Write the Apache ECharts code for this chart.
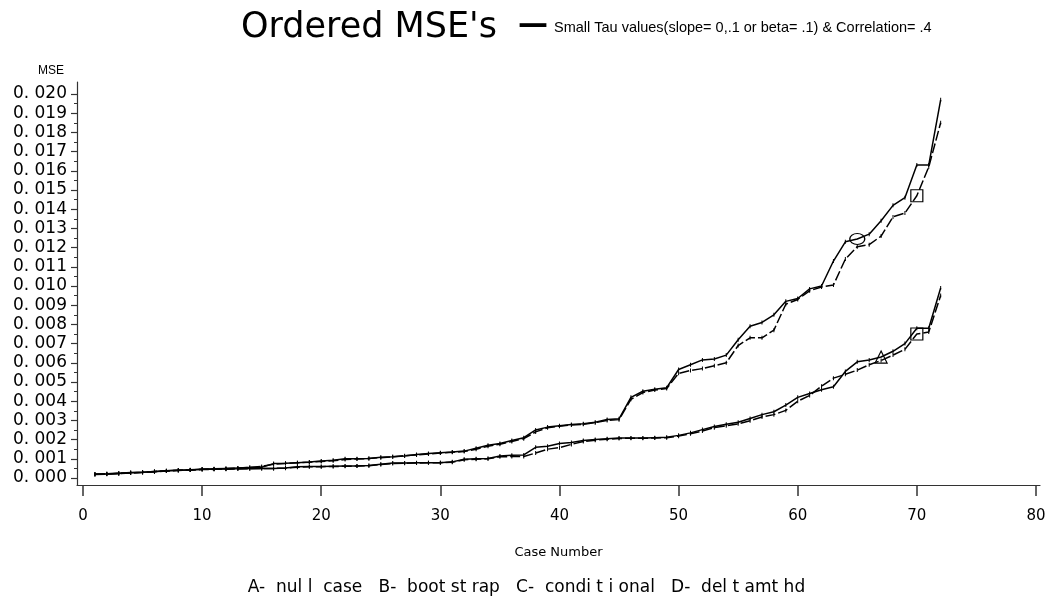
<!DOCTYPE html>
<html>
<head>
<meta charset="utf-8">
<title>Ordered MSE's</title>
<script src="https://cdn.jsdelivr.net/npm/echarts@6/dist/echarts.min.js"></script>
<style>
  html, body { margin: 0; padding: 0; background: #fff; }
  #chart { width: 1053px; height: 598px; }
</style>
</head>
<body>
<div id="chart"></div>
<script>
// Case numbers 1..72 (ordered by MSE within each method)
const caseNumbers = [
  1,2,3,4,5,6,7,8,9,10,11,12,13,14,15,16,17,18,19,20,21,22,23,24,
  25,26,27,28,29,30,31,32,33,34,35,36,37,38,39,40,41,42,43,44,45,46,47,48,
  49,50,51,52,53,54,55,56,57,58,59,60,61,62,63,64,65,66,67,68,69,70,71,72
];

// A - null case (solid, lower pair)
const nullCase = [
  0.00020,0.00021,0.00024,0.00027,0.00030,0.00034,0.00038,0.00040,0.00042,0.00045,
  0.00046,0.00047,0.00048,0.00050,0.00050,0.00050,0.00052,0.00058,0.00060,0.00060,
  0.00061,0.00062,0.00063,0.00065,0.00072,0.00078,0.00078,0.00079,0.00080,0.00080,
  0.00084,0.00098,0.00100,0.00102,0.00114,0.00118,0.00120,0.00160,0.00165,0.00180,
  0.00185,0.00195,0.00200,0.00205,0.00208,0.00208,0.00208,0.00210,0.00212,0.00222,
  0.00235,0.00252,0.00268,0.00280,0.00290,0.00310,0.00330,0.00345,0.00380,0.00420,
  0.00440,0.00460,0.00475,0.00555,0.00605,0.00615,0.00630,0.00660,0.00700,0.00780,
  0.00780,0.00990
];

// B - bootstrap (dashed, lower pair)
const bootstrap = [
  0.00018,0.00020,0.00023,0.00026,0.00029,0.00033,0.00036,0.00039,0.00041,0.00044,
  0.00045,0.00046,0.00047,0.00048,0.00049,0.00050,0.00051,0.00056,0.00058,0.00059,
  0.00060,0.00061,0.00062,0.00064,0.00070,0.00075,0.00077,0.00078,0.00079,0.00080,
  0.00082,0.00095,0.00098,0.00100,0.00110,0.00112,0.00112,0.00130,0.00150,0.00158,
  0.00175,0.00190,0.00197,0.00202,0.00206,0.00207,0.00207,0.00208,0.00210,0.00218,
  0.00230,0.00245,0.00262,0.00272,0.00282,0.00298,0.00318,0.00330,0.00352,0.00400,
  0.00430,0.00478,0.00520,0.00540,0.00562,0.00590,0.00612,0.00640,0.00670,0.00750,
  0.00760,0.00950
];

// C - conditional (solid, upper pair)
const conditional = [
  0.00020,0.00022,0.00025,0.00028,0.00030,0.00033,0.00038,0.00040,0.00043,0.00046,
  0.00048,0.00050,0.00052,0.00054,0.00056,0.00075,0.00077,0.00080,0.00083,0.00088,
  0.00092,0.00100,0.00100,0.00101,0.00108,0.00110,0.00115,0.00122,0.00128,0.00132,
  0.00135,0.00140,0.00155,0.00170,0.00180,0.00195,0.00210,0.00250,0.00265,0.00272,
  0.00278,0.00282,0.00290,0.00305,0.00308,0.00420,0.00452,0.00462,0.00470,0.00565,
  0.00590,0.00615,0.00620,0.00640,0.00720,0.00790,0.00810,0.00850,0.00920,0.00935,
  0.00985,0.01000,0.01130,0.01230,0.01245,0.01270,0.01340,0.01420,0.01460,0.01630,
  0.01630,0.01970
];

// D - deltamthd (dashed, upper pair)
const deltamthd = [
  0.00019,0.00022,0.00024,0.00027,0.00030,0.00034,0.00037,0.00040,0.00042,0.00045,
  0.00047,0.00049,0.00052,0.00055,0.00060,0.00072,0.00076,0.00079,0.00082,0.00086,
  0.00090,0.00096,0.00099,0.00102,0.00106,0.00110,0.00116,0.00120,0.00125,0.00130,
  0.00134,0.00138,0.00150,0.00165,0.00176,0.00190,0.00205,0.00240,0.00262,0.00270,
  0.00276,0.00280,0.00288,0.00300,0.00304,0.00410,0.00445,0.00458,0.00466,0.00545,
  0.00560,0.00570,0.00585,0.00600,0.00690,0.00730,0.00730,0.00770,0.00905,0.00930,
  0.00975,0.00995,0.01005,0.01140,0.01205,0.01215,0.01260,0.01360,0.01380,0.01470,
  0.01620,0.01850
];

// Tick labels
const xTicks = [0, 10, 20, 30, 40, 50, 60, 70, 80];
const yTicks = [0.000,0.001,0.002,0.003,0.004,0.005,0.006,0.007,0.008,0.009,0.010,
                0.011,0.012,0.013,0.014,0.015,0.016,0.017,0.018,0.019,0.020];

const BLACK = '#000';
const AXIS = '#333';
const FONT = 'DejaVu Sans';

// Build [case, mse] pairs; one case per series carries the method's plot symbol
function buildData(values, markAt, symbol, size) {
  return values.map(function (v, i) {
    const pt = [caseNumbers[i], v];
    if (caseNumbers[i] === markAt) {
      return {
        value: pt, symbol: symbol, symbolSize: size,
        itemStyle: { color: 'rgba(255,255,255,0)', borderColor: BLACK, borderWidth: 1.2 }
      };
    }
    return pt;
  });
}

function lineSeries(name, values, dashed, markAt, symbol, size) {
  return {
    name: name,
    type: 'line',
    data: buildData(values, markAt, symbol, size),
    symbol: 'rect',
    symbolSize: [1, 4],
    showSymbol: true,
    itemStyle: { color: BLACK },
    lineStyle: { color: BLACK, width: 1.5, type: dashed ? [10, 3] : 'solid' },
    z: 3
  };
}

const yFmt = function (v) { return v.toFixed(3).replace('.', '. '); };
const yMin = -0.000365, yMax = 0.020625;

const chart = echarts.init(document.getElementById('chart'), null, { renderer: 'canvas' });
chart.setOption({
  animation: false,
  backgroundColor: '#fff',
  title: [
    { text: "Ordered MSE's", left: 236, top: 5,
      textStyle: { fontFamily: FONT, fontSize: 35, fontWeight: 'normal', color: BLACK } },
    { text: '\u2014', left: 513, top: 5,
      textStyle: { fontFamily: FONT, fontSize: 30, fontWeight: 'bold', color: BLACK } },
    { text: 'Small Tau values(slope= 0,.1 or beta= .1) & Correlation= .4', left: 549, top: 15,
      textStyle: { fontFamily: 'Liberation Sans', fontSize: 14.5, fontWeight: 'normal', color: BLACK } },
    { text: 'MSE', left: 33, top: 60,
      textStyle: { fontFamily: 'Liberation Sans', fontSize: 12, fontWeight: 'normal', color: BLACK } },
    { text: 'A-  nul l  case   B-  boot st rap   C-  condi t i onal   D-  del t amt hd', left: 'center', top: 574,
      textStyle: { fontFamily: FONT, fontSize: 17, fontWeight: 'normal', color: BLACK } }
  ],
  grid: { left: 77, right: 13, top: 82, bottom: 113, containLabel: false },
  xAxis: {
    type: 'value',
    min: -0.504, max: 80.34,
    name: 'Case Number',
    nameLocation: 'middle',
    nameGap: 61,
    nameTextStyle: { fontFamily: FONT, fontSize: 13, color: BLACK },
    axisLine: { show: true, onZero: false, lineStyle: { color: AXIS, width: 1.2 } },
    axisTick: { show: true, inside: false, length: 11, customValues: xTicks,
                lineStyle: { color: AXIS, width: 1.5 } },
    axisLabel: { show: true, customValues: xTicks, margin: 24,
                 fontFamily: FONT, fontSize: 15, color: BLACK },
    splitLine: { show: false }
  },
  yAxis: [
    {
      type: 'value',
      min: yMin, max: yMax,
      axisLine: { show: true, onZero: false, lineStyle: { color: AXIS, width: 1.2 } },
      axisTick: { show: true, inside: false, length: 6, customValues: yTicks,
                  lineStyle: { color: AXIS, width: 1.2 } },
      axisLabel: { show: true, customValues: yTicks, margin: 10, formatter: yFmt,
                   fontFamily: FONT, fontSize: 17, color: BLACK },
      splitLine: { show: false }
    },
    {
      // minor ticks halfway between labelled values
      type: 'value',
      position: 'left',
      min: yMin, max: yMax,
      axisLine: { show: false, onZero: false },
      axisTick: { show: true, inside: false, length: 3,
                  customValues: yTicks.slice(0, -1).map(function (t) { return t + 0.0005; }),
                  lineStyle: { color: AXIS, width: 1 } },
      axisLabel: { show: false },
      splitLine: { show: false }
    }
  ],
  series: [
    lineSeries('A- null case', nullCase, false, 67, 'triangle', [12, 12]),
    lineSeries('B- bootstrap', bootstrap, true, 70, 'rect', [12, 12]),
    lineSeries('C- conditional', conditional, false, 65, 'circle', [15, 11]),
    lineSeries('D- deltamthd', deltamthd, true, 70, 'rect', [12, 12])
  ]
});
</script>
</body>
</html>
